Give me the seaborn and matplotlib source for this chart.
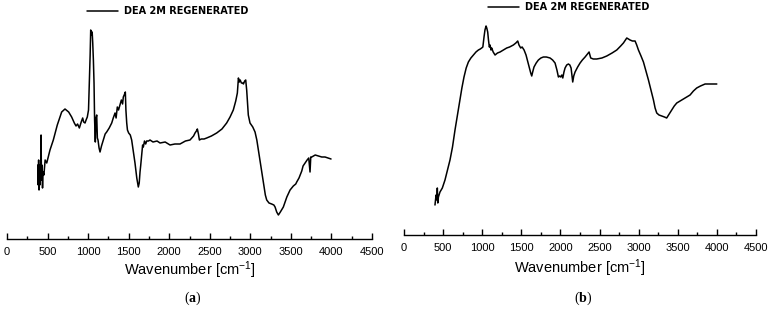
import numpy as np
import pandas as pd
import matplotlib
matplotlib.use("Agg")
import matplotlib.pyplot as plt
import seaborn as sns

# FTIR spectra of regenerated DEA 2M (arbitrary intensity units)
wn_a = [380, 385, 390, 395, 400, 405, 410, 415, 420, 425, 430, 438, 445, 455, 470,
        490, 530, 571, 620, 674, 715, 760, 797, 830, 851, 870, 892, 915, 933, 945,
        962, 975, 990, 1005, 1015, 1025, 1032, 1040, 1050, 1057, 1065, 1073, 1080,
        1089, 1097, 1106, 1114, 1122, 1135, 1147, 1165, 1188, 1210, 1229, 1260,
        1291, 1310, 1332, 1345, 1360, 1375, 1393, 1410, 1425, 1434, 1445, 1459,
        1466, 1476, 1485, 1500, 1520, 1537, 1555, 1578, 1600, 1619, 1630, 1640,
        1649, 1660, 1672, 1681, 1695, 1710, 1722, 1745, 1763, 1800, 1850, 1887,
        1950, 2010, 2070, 2133, 2200, 2256, 2300, 2318, 2335, 2347, 2360, 2372,
        2395, 2430, 2462, 2520, 2585, 2650, 2708, 2750, 2790, 2820, 2840, 2853,
        2865, 2875, 2890, 2905, 2915, 2930, 2943, 2955, 2963, 2975, 2996, 3030,
        3058, 3080, 3099, 3130, 3161, 3185, 3202, 3230, 3263, 3290, 3305, 3325,
        3346, 3370, 3407, 3450, 3490, 3530, 3560, 3572, 3600, 3620, 3634, 3650,
        3675, 3700, 3720, 3736, 3745, 3757, 3800, 3839, 3880, 3921, 3960, 3995]
int_a = [75, 55, 80, 50, 70, 55, 75, 65, 105, 60, 75, 52, 68, 65, 80,
         77, 90, 100, 115, 128, 131, 128, 123, 117, 114, 116, 112, 118, 122, 118,
         117, 120, 123, 130, 157, 185, 210, 205, 208, 197, 180, 157, 120,
         98, 122, 125, 102, 100, 92, 88, 94, 100, 106, 108, 112,
         117, 122, 127, 122, 133, 130, 135, 140, 136, 143, 145, 148,
         130, 117, 110, 107, 105, 100, 90, 77, 62, 53, 57, 68,
         75, 85, 95, 93, 99, 96, 99, 99, 100, 98, 99, 97,
         98, 95, 96, 96, 99, 100, 104, 107, 109, 111, 106, 100,
         101, 101, 102, 104, 107, 111, 117, 123, 130, 139, 147, 162,
         158, 160, 157, 157, 156, 159, 160, 150, 140, 125, 117, 113,
         108, 100, 90, 73, 57, 45, 40, 37, 36, 35, 33, 28,
         25, 28, 33, 43, 50, 54, 56, 58, 62, 66, 69, 74,
         77, 80, 82, 68, 83, 83, 85, 84, 83, 83, 82, 81]

wn_b = [396, 410, 420, 426, 432, 440, 460, 490, 524, 550, 588, 620, 652, 690, 716,
        740, 767, 795, 823, 855, 887, 920, 951, 975, 993, 1008, 1023, 1035, 1049,
        1058, 1070, 1080, 1091, 1100, 1112, 1121, 1140, 1164, 1195, 1228, 1270,
        1313, 1350, 1398, 1430, 1454, 1470, 1492, 1510, 1535, 1560, 1577, 1600,
        1620, 1633, 1645, 1662, 1690, 1718, 1750, 1782, 1820, 1867, 1900, 1931,
        1955, 1974, 1990, 2004, 2018, 2030, 2045, 2059, 2080, 2102, 2120, 2136,
        2146, 2157, 2170, 2187, 2220, 2251, 2280, 2315, 2345, 2366, 2377, 2387,
        2420, 2464, 2530, 2592, 2660, 2720, 2770, 2805, 2830, 2848, 2870, 2890,
        2920, 2954, 2975, 2997, 3030, 3061, 3090, 3125, 3160, 3189, 3210, 3231,
        3260, 3295, 3330, 3358, 3390, 3423, 3455, 3487, 3530, 3572, 3615, 3657,
        3700, 3742, 3790, 3849, 3890, 3934, 3965, 3999]
int_b = [45, 55, 50, 62, 47, 53, 58, 62, 70, 78, 90, 103, 120, 138, 150,
         162, 173, 182, 188, 192, 195, 198, 200, 201, 202, 203, 213, 220, 224,
         222, 218, 210, 203, 205, 200, 202, 198, 195, 197, 198, 200,
         202, 203, 205, 207, 209, 205, 202, 203, 200, 195, 190, 183,
         177, 174, 178, 183, 187, 190, 192, 193, 193, 192, 190, 187,
         180, 173, 174, 173, 175, 172, 178, 182, 185, 186, 185, 182,
         175, 168, 174, 178, 183, 187, 190, 193, 196, 198, 195, 192,
         191, 191, 192, 194, 197, 200, 204, 207, 210, 212, 211, 210,
         209, 209, 205, 200, 194, 188, 180, 170, 159, 150, 142, 137,
         135, 134, 133, 132, 136, 140, 144, 147, 149, 151, 153, 155,
         159, 162, 164, 166, 166, 166, 166, 166]

x_ticks = [0, 500, 1000, 1500, 2000, 2500, 3000, 3500, 4000, 4500]
series_name = "DEA 2M REGENERATED"
panel_letters = ["a", "b"]

sns.set_style("white")
plt.rcParams["font.family"] = ["Liberation Sans", "DejaVu Sans"]
plt.rcParams["mathtext.fontset"] = "custom"
plt.rcParams["mathtext.bf"] = "Liberation Serif:bold"
plt.rcParams["mathtext.default"] = "regular"
plt.rcParams["text.color"] = "black"
plt.rcParams["xtick.color"] = "black"
plt.rcParams["axes.labelcolor"] = "black"

fig = plt.figure(figsize=(7.72, 3.10), dpi=100)
W, H = 772, 310

panels = [
    # data, axes box in pixels (left, right, spine y, top y), ylim
    (pd.DataFrame({"Wavenumber": wn_a, "Intensity": int_a}), (7, 372, 239, 20), (1, 220)),
    (pd.DataFrame({"Wavenumber": wn_b, "Intensity": int_b}), (404, 756, 235, 20), (15, 230)),
]

legend_pos = [(87, 11), (488, 7)]
label_y = [270, 268]

for i, (df, (l, r, b, t), ylim) in enumerate(panels):
    ax = fig.add_axes([l / W, (H - b) / H, (r - l) / W, (b - t) / H])
    sns.lineplot(data=df, x="Wavenumber", y="Intensity", ax=ax, color="black",
                 linewidth=1.1, label=series_name, sort=False)
    ax.set_xlim(0, 4500)
    ax.set_ylim(*ylim)
    ax.set_xticks(x_ticks)
    ax.set_xticklabels([str(v) for v in x_ticks], fontsize=8)
    ax.set_xticks(np.arange(250, 4500, 500), minor=True)
    ax.tick_params(axis="x", which="major", direction="in", length=4, width=1,
                   pad=6, bottom=True)
    ax.tick_params(axis="x", which="minor", direction="in", length=2, width=1, bottom=True)
    ax.set_yticks([])
    ax.set_ylabel("")
    ax.set_xlabel("")
    for s in ["top", "right", "left"]:
        ax.spines[s].set_visible(False)
    ax.spines["bottom"].set_color("black")
    ax.spines["bottom"].set_linewidth(1)
    ax.patch.set_alpha(0)

    cx = (l + r) / 2
    fig.text(cx / W, (H - label_y[i]) / H, r"Wavenumber [cm$^{-1}$]",
             ha="center", va="center", fontsize=10.5)

    lx, ly = legend_pos[i]
    leg = ax.legend(loc="center left", frameon=False, handlelength=3.2,
                    handletextpad=0.6, borderaxespad=0, borderpad=0,
                    bbox_to_anchor=(lx / W, (H - ly) / H),
                    bbox_transform=fig.transFigure,
                    prop={"size": 7, "weight": "bold", "family": "DejaVu Sans"})
    for ln in leg.get_lines():
        ln.set_linewidth(1.1)

    fig.text((cx + 3) / W, (H - 298) / H, "($\\mathbf{%s}$)" % panel_letters[i],
             ha="center", va="center", fontsize=10, family="Liberation Serif")

fig.savefig("out.png", dpi=100)
